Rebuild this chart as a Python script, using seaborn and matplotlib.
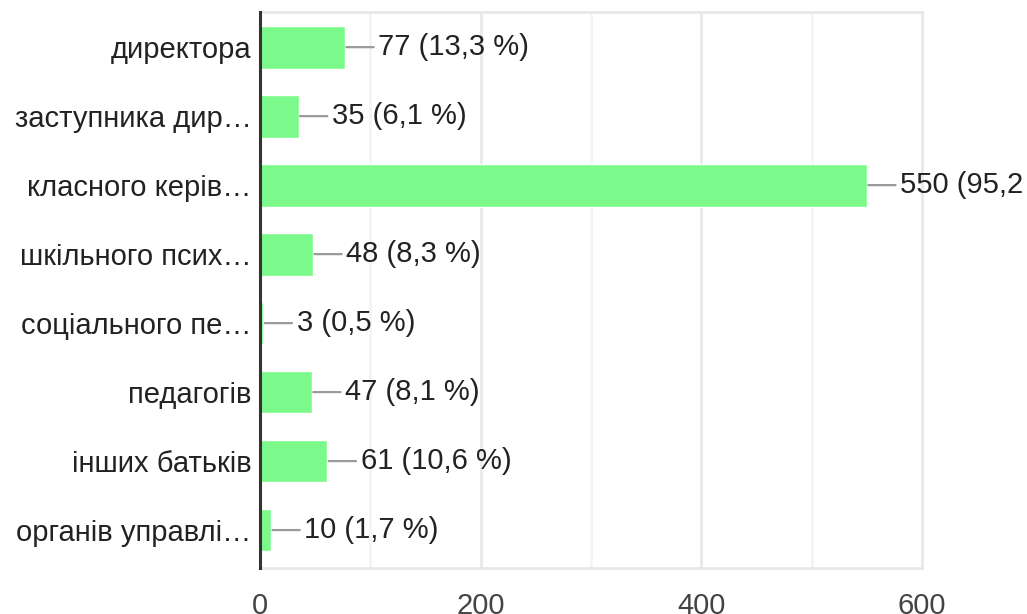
import matplotlib
matplotlib.use("Agg")
import matplotlib.pyplot as plt
import seaborn as sns
import pandas as pd

categories = ["директора", "заступника дир…", "класного керів…", "шкільного псих…",
              "соціального пе…", "педагогів", "інших батьків", "органів управлі…"]
counts = [77, 35, 550, 48, 3, 47, 61, 10]
percents = ["13,3", "6,1", "95,2", "8,3", "0,5", "8,1", "10,6", "1,7"]
x_ticks = [0, 200, 400, 600]
x_minor = [100, 300, 500]

sns.set_theme(style="white")
plt.rcParams["font.family"] = ["Liberation Sans", "DejaVu Sans"]

df = pd.DataFrame({"category": categories, "count": counts})

fig = plt.figure(figsize=(10.27, 6.14), dpi=100)
ax = fig.add_axes([0.2532, 0.0749, 0.8978 - 0.2532, 0.9805 - 0.0749])

sns.barplot(data=df, y="category", x="count", orient="h", color="#7cf98b",
            saturation=1, width=0.62, ax=ax, zorder=3)

ax.set_xlim(0, 600)
ax.set_ylim(7.55, -0.51)
ax.set_xticks(x_ticks)
ax.set_xticks(x_minor, minor=True)
ax.grid(False)
for v in x_ticks[1:-1]:
    ax.axvline(v, color="#e9e9e9", lw=2, zorder=0)
for v in x_minor:
    ax.axvline(v, color="#f4f4f4", lw=2, zorder=0)

ax.set_xlabel("")
ax.set_ylabel("")
ax.tick_params(axis="x", which="both", length=0, pad=17, labelsize=21, colors="#444444")
ax.tick_params(axis="y", length=0, pad=6, labelsize=21, colors="#222222")

for side in ["top", "right", "bottom"]:
    ax.spines[side].set_color("#e8e8e8")
    ax.spines[side].set_linewidth(2)
ax.spines["left"].set_color("#333333")
ax.spines["left"].set_linewidth(2.2)
ax.spines["left"].set_zorder(5)

for i, (c, p) in enumerate(zip(counts, percents)):
    ax.annotate(f"{c} ({p} %)", xy=(c, i), xytext=(24, 0), textcoords="offset points",
                ha="left", va="center", fontsize=21, color="#222222",
                annotation_clip=False,
                arrowprops=dict(arrowstyle="-", color="#9a9a9a", lw=1.6,
                                shrinkA=1, shrinkB=1))

fig.savefig("out.png", dpi=100)
